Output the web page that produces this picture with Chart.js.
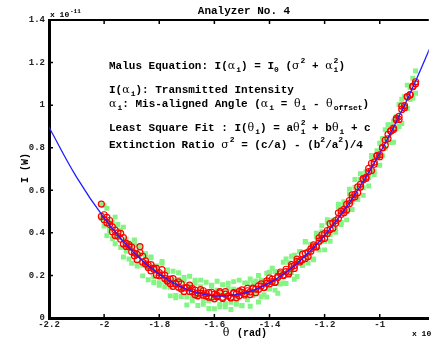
<!DOCTYPE html>
<html>
<head>
<meta charset="utf-8">
<title>Analyzer No. 4</title>
<script src="https://cdn.jsdelivr.net/npm/chart.js@4.4.1/dist/chart.umd.min.js"></script>
<style>
  html, body { margin: 0; padding: 0; background: #fff; }
  #chart { display: block; }
</style>
</head>
<body>
<canvas id="chart" width="434" height="338"></canvas>
<script>
// values (x in rad, y in units of 1e-11 W)
const theta = [
  -2.01, -2.00, -1.99, -1.98, -1.97, -1.96, -1.95, -1.94, -1.93, -1.92,
  -1.91, -1.90, -1.89, -1.88, -1.87, -1.86, -1.85, -1.84, -1.83, -1.82,
  -1.81, -1.80, -1.79, -1.78, -1.77, -1.76, -1.75, -1.74, -1.73, -1.72,
  -1.71, -1.70, -1.69, -1.68, -1.67, -1.66, -1.65, -1.64, -1.63, -1.62,
  -1.61, -1.60, -1.59, -1.58, -1.57, -1.56, -1.55, -1.54, -1.53, -1.52,
  -1.51, -1.50, -1.49, -1.48, -1.47, -1.46, -1.45, -1.44, -1.43, -1.42,
  -1.41, -1.40, -1.39, -1.38, -1.37, -1.36, -1.35, -1.34, -1.33, -1.32,
  -1.31, -1.30, -1.29, -1.28, -1.27, -1.26, -1.25, -1.24, -1.23, -1.22,
  -1.21, -1.20, -1.19, -1.18, -1.17, -1.16, -1.15, -1.14, -1.13, -1.12,
  -1.11, -1.10, -1.09, -1.08, -1.07, -1.06, -1.05, -1.04, -1.03, -1.02,
  -1.01, -1.00, -0.99, -0.98, -0.97, -0.96, -0.95, -0.94, -0.93, -0.92,
  -0.91, -0.90, -0.89, -0.88, -0.87
];

// green: raw readings, two passes
const rawI = [
  0.532, 0.432, 0.515, 0.411, 0.450, 0.349, 0.439, 0.331, 0.427, 0.315,
  0.353, 0.257, 0.344, 0.244, 0.337, 0.248, 0.292, 0.180, 0.283, 0.192,
  0.240, 0.154, 0.257, 0.147, 0.218, 0.144, 0.220, 0.095, 0.181, 0.101,
  0.190, 0.099, 0.196, 0.103, 0.163, 0.059, 0.147, 0.064, 0.168, 0.081,
  0.150, 0.043, 0.130, 0.064, 0.156, 0.053, 0.140, 0.074, 0.171, 0.065,
  0.133, 0.058, 0.165, 0.086, 0.183, 0.106, 0.174, 0.075, 0.177, 0.109,
  0.210, 0.136, 0.234, 0.131, 0.214, 0.160, 0.262, 0.162, 0.259, 0.214,
  0.295, 0.195, 0.311, 0.248, 0.357, 0.258, 0.345, 0.277, 0.382, 0.319,
  0.433, 0.361, 0.450, 0.361, 0.459, 0.419, 0.524, 0.439, 0.546, 0.500,
  0.605, 0.510, 0.613, 0.559, 0.678, 0.612, 0.687, 0.620, 0.756, 0.690,
  0.786, 0.718, 0.843, 0.797, 0.908, 0.824, 0.925, 0.889, 1.003, 0.914,
  1.041, 0.984, 1.083, 1.032, 1.160
];
const rawI2 = [
  0.467, 0.528, 0.387, 0.448, 0.372, 0.474, 0.383, 0.413, 0.287, 0.370,
  0.277, 0.325, 0.367, 0.257, 0.298, 0.198, 0.302, 0.234, 0.287, 0.167,
  0.245, 0.166, 0.265, 0.173, 0.226, 0.104, 0.175, 0.106, 0.213, 0.138,
  0.176, 0.061, 0.152, 0.081, 0.177, 0.099, 0.178, 0.081, 0.114, 0.045,
  0.154, 0.094, 0.173, 0.053, 0.117, 0.067, 0.163, 0.040, 0.135, 0.087,
  0.178, 0.059, 0.120, 0.163, 0.055, 0.164, 0.121, 0.200, 0.100, 0.172,
  0.098, 0.215, 0.167, 0.218, 0.116, 0.213, 0.164, 0.277, 0.199, 0.290,
  0.182, 0.265, 0.312, 0.246, 0.360, 0.284, 0.343, 0.273, 0.398, 0.355,
  0.405, 0.320, 0.462, 0.392, 0.448, 0.403, 0.535, 0.449, 0.527, 0.461,
  0.582, 0.545, 0.651, 0.557, 0.651, 0.576, 0.681, 0.660, 0.763, 0.674,
  0.757, 0.821, 0.762, 0.885, 0.834, 0.907, 0.826, 0.946, 0.900, 1.028,
  0.993, 1.094, 1.026, 1.126, 1.056
];

// red: averaged readings, two passes
const avgI = [
  0.535, 0.462, 0.473, 0.439, 0.405, 0.413, 0.384, 0.398, 0.348, 0.351,
  0.345, 0.311, 0.305, 0.274, 0.335, 0.290, 0.254, 0.237, 0.251, 0.229,
  0.202, 0.213, 0.227, 0.186, 0.173, 0.183, 0.149, 0.163, 0.170, 0.136,
  0.142, 0.143, 0.125, 0.138, 0.109, 0.117, 0.133, 0.107, 0.115, 0.098,
  0.121, 0.090, 0.106, 0.124, 0.097, 0.112, 0.103, 0.094, 0.119, 0.113,
  0.104, 0.132, 0.115, 0.128, 0.110, 0.140, 0.136, 0.134, 0.160, 0.142,
  0.163, 0.188, 0.171, 0.167, 0.196, 0.208, 0.199, 0.218, 0.208, 0.251,
  0.246, 0.266, 0.263, 0.300, 0.280, 0.310, 0.314, 0.344, 0.336, 0.361,
  0.391, 0.374, 0.411, 0.416, 0.447, 0.445, 0.494, 0.486, 0.510, 0.507,
  0.552, 0.564, 0.570, 0.616, 0.615, 0.650, 0.661, 0.703, 0.693, 0.732,
  0.763, 0.767, 0.799, 0.812, 0.863, 0.877, 0.892, 0.931, 0.933, 0.996,
  0.998, 1.039, 1.048, 1.089, 1.100
];
const avgI2 = [
  0.477, 0.485, 0.448, 0.458, 0.428, 0.387, 0.400, 0.370, 0.378, 0.336,
  0.335, 0.333, 0.292, 0.299, 0.307, 0.262, 0.268, 0.248, 0.221, 0.234,
  0.233, 0.198, 0.202, 0.201, 0.176, 0.161, 0.185, 0.159, 0.145, 0.160,
  0.125, 0.141, 0.154, 0.123, 0.131, 0.104, 0.117, 0.128, 0.103, 0.119,
  0.097, 0.112, 0.100, 0.118, 0.092, 0.124, 0.104, 0.098, 0.116, 0.095,
  0.125, 0.120, 0.108, 0.139, 0.123, 0.137, 0.119, 0.151, 0.150, 0.144,
  0.174, 0.160, 0.183, 0.168, 0.190, 0.216, 0.202, 0.229, 0.216, 0.241,
  0.233, 0.277, 0.269, 0.274, 0.304, 0.289, 0.325, 0.334, 0.334, 0.376,
  0.371, 0.397, 0.397, 0.443, 0.422, 0.458, 0.467, 0.502, 0.495, 0.534,
  0.537, 0.579, 0.581, 0.589, 0.628, 0.655, 0.655, 0.688, 0.727, 0.722,
  0.761, 0.758, 0.801, 0.836, 0.842, 0.880, 0.885, 0.938, 0.947, 0.980,
  0.988, 1.040, 1.049, 1.086, 1.110
];

// blue: least square fit curve
const fitTheta = [-2.2, -2.1, -2.0, -1.9, -1.8, -1.7, -1.6, -1.5, -1.4, -1.3, -1.2, -1.1, -1.0, -0.9, -0.8];
const fitI = [0.896, 0.662, 0.470, 0.317, 0.206, 0.135, 0.104, 0.114, 0.165, 0.256, 0.388, 0.561, 0.774, 1.028, 1.322];

const xTicks = [-2.2, -2, -1.8, -1.6, -1.4, -1.2, -1];
const yTicks = [0, 0.2, 0.4, 0.6, 0.8, 1, 1.2, 1.4];

const MONO = '"Liberation Mono", "DejaVu Sans Mono", monospace';

function pts(xs, ys) {
  return xs.map((x, i) => ({ x: x, y: ys[i] }));
}

// writes a line of text with sub/superscripts, left to right
function richText(ctx, x, y, parts) {
  ctx.textBaseline = 'middle';
  ctx.textAlign = 'left';
  for (const [t, kind, t2] of parts) {
    if (!kind) {
      ctx.font = 'bold 11px ' + MONO;
      ctx.fillText(t, x, y);
      x += ctx.measureText(t).width;
    } else if (kind === 'g') {
      ctx.font = '11px "DejaVu Serif", serif';
      ctx.fillText(t, x, y);
      x += ctx.measureText(t).width + 1;
    } else if (kind === 'sub') {
      ctx.font = 'bold 8px ' + MONO;
      ctx.fillText(t, x, y + 4);
      x += ctx.measureText(t).width;
    } else if (kind === 'sup') {
      ctx.font = 'bold 8px ' + MONO;
      ctx.fillText(t, x, y - 5);
      x += ctx.measureText(t).width;
    } else if (kind === 'both') {
      ctx.font = 'bold 8px ' + MONO;
      ctx.fillText(t, x, y - 5);
      ctx.fillText(t2, x, y + 4);
      x += Math.max(ctx.measureText(t).width, ctx.measureText(t2).width);
    }
  }
}

const notes = [
  [66, [['Malus Equation: I('], ['α', 'g'], ['i', 'sub'], [') = I'], ['0', 'sub'], [' ('], ['σ', 'g'], ['2', 'sup'], [' + '], ['α', 'g'], ['2', 'both', 'i'], [')']]],
  [90, [['I('], ['α', 'g'], ['i', 'sub'], ['): Transmitted Intensity']]],
  [104, [['α', 'g'], ['i', 'sub'], [': Mis-aligned Angle ('], ['α', 'g'], ['i', 'sub'], [' = '], ['θ', 'g'], ['i', 'sub'], [' - '], ['θ', 'g'], ['offset', 'sub'], [')']]],
  [128, [['Least Square Fit : I('], ['θ', 'g'], ['i', 'sub'], [') = a'], ['θ', 'g'], ['2', 'both', 'i'], [' + b'], ['θ', 'g'], ['i', 'sub'], [' + c']]],
  [145, [['Extinction Ratio '], ['σ', 'g'], ['2', 'sup'], [' = (c/a) - (b'], ['2', 'sup'], ['/a'], ['2', 'sup'], [')/4']]]
];

const decorations = {
  id: 'decorations',
  afterDraw(chart) {
    const ctx = chart.ctx;
    const { left, right, top, bottom } = chart.chartArea;
    const xs = chart.scales.x, ys = chart.scales.y;
    ctx.save();
    ctx.fillStyle = '#000';
    ctx.strokeStyle = '#000';

    // top frame line
    ctx.lineWidth = 2;
    ctx.beginPath();
    ctx.moveTo(left, top);
    ctx.lineTo(right, top);
    ctx.stroke();

    // inward tick marks
    ctx.lineWidth = 1.5;
    ctx.beginPath();
    xTicks.forEach(v => {
      const px = xs.getPixelForValue(v);
      ctx.moveTo(px, bottom + 1); ctx.lineTo(px, bottom - 4);
      ctx.moveTo(px, top); ctx.lineTo(px, top + 4);
    });
    yTicks.forEach(v => {
      const py = ys.getPixelForValue(v);
      ctx.moveTo(left, py); ctx.lineTo(left + 4, py);
    });
    ctx.stroke();

    // title
    ctx.textBaseline = 'middle';
    ctx.textAlign = 'center';
    ctx.font = 'bold 11px ' + MONO;
    ctx.fillText('Analyzer No. 4', 244, 11);

    // exponent labels
    ctx.textAlign = 'left';
    ctx.font = 'bold 8px ' + MONO;
    ctx.fillText('x 10', 50, 15);
    ctx.font = 'bold 6px ' + MONO;
    ctx.fillText('-11', 70, 11);
    ctx.font = 'bold 8px ' + MONO;
    ctx.fillText('x 10', 412, 334);

    // axis titles
    ctx.textAlign = 'center';
    ctx.font = '11px "DejaVu Serif", serif';
    ctx.fillText('θ', 226, 333);
    ctx.font = 'bold 10px ' + MONO;
    ctx.fillText('(rad)', 252, 333);

    ctx.save();
    ctx.translate(25, 168);
    ctx.rotate(-Math.PI / 2);
    ctx.font = 'bold 10px ' + MONO;
    ctx.fillText('I (W)', 0, 0);
    ctx.restore();

    // equations
    notes.forEach(([y, parts]) => richText(ctx, 109, y, parts));
    ctx.restore();
  }
};

new Chart(document.getElementById('chart'), {
  type: 'scatter',
  data: {
    datasets: [
      {
        label: 'Fit',
        data: pts(fitTheta, fitI),
        showLine: true,
        borderColor: '#1f1fff',
        borderWidth: 1.3,
        pointRadius: 0,
        tension: 0.4,
        fill: false
      },
      {
        label: 'Averaged',
        data: pts(theta, avgI).concat(pts(theta, avgI2)),
        pointStyle: 'circle',
        pointRadius: 3,
        borderWidth: 1.2,
        borderColor: '#ff0000',
        backgroundColor: 'rgba(0,0,0,0)'
      },
      {
        label: 'Raw',
        data: pts(theta, rawI).concat(pts(theta, rawI2)),
        pointStyle: 'rect',
        pointRadius: 3.5,
        borderWidth: 0,
        borderColor: '#84f484',
        backgroundColor: '#84f484'
      }
    ]
  },
  options: {
    responsive: false,
    animation: false,
    layout: { padding: { top: 20, right: 0, left: 0, bottom: 0 } },
    plugins: { legend: { display: false }, tooltip: { enabled: false } },
    scales: {
      x: {
        type: 'linear',
        min: -2.2,
        max: -0.822,
        afterBuildTicks: s => { s.ticks = xTicks.map(v => ({ value: v })); },
        afterFit: s => { s.height = 20; },
        grid: { display: false, drawTicks: false },
        border: { display: true, color: '#000', width: 3 },
        ticks: {
          padding: 1,
          color: '#222',
          font: { family: MONO, size: 9, weight: 'bold' },
          maxRotation: 0,
          callback: v => String(v)
        }
      },
      y: {
        type: 'linear',
        min: 0,
        max: 1.4,
        afterBuildTicks: s => { s.ticks = yTicks.map(v => ({ value: v })); },
        afterFit: s => { s.width = 49; },
        grid: { display: false, drawTicks: false },
        border: { display: true, color: '#000', width: 3 },
        ticks: {
          padding: 4,
          color: '#222',
          font: { family: MONO, size: 9, weight: 'bold' },
          callback: v => String(v)
        }
      }
    }
  },
  plugins: [decorations]
});
</script>
</body>
</html>
